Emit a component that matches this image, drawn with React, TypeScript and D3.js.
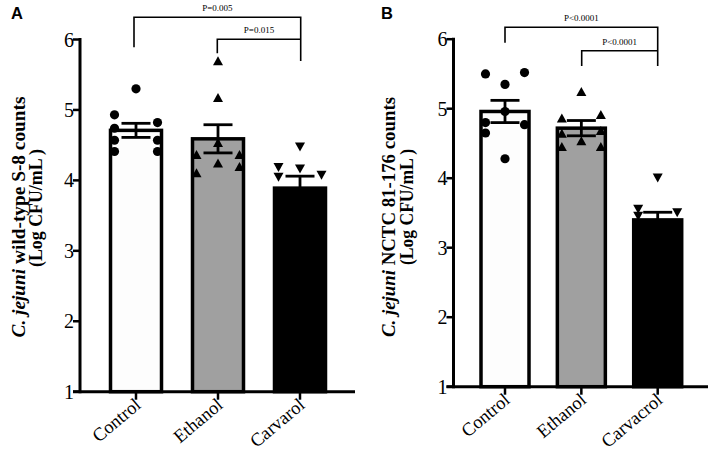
import React from "react";
import * as d3 from "d3";

const categoriesA = ["Control", "Ethanol", "Carvarol"];
const categoriesB = ["Control", "Ethanol", "Carvacrol"];
const meansA = [4.71, 4.59, 3.89];
const semA = [0.1, 0.2, 0.17];
const meansB = [4.96, 4.72, 3.4];
const semB = [0.16, 0.11, 0.11];
const pointsA = [
  [5.3, 4.93, 4.82, 4.74, 4.57, 4.57, 4.41, 4.41],
  [5.69, 5.17, 4.53, 4.24, 4.36, 4.36, 4.1, 4.19],
  [4.48, 4.19, 4.17, 4.05, 4.08, 3.5, 3.35, 3.3],
];
const pointsB = [
  [5.5, 5.52, 5.35, 4.96, 4.8, 4.77, 4.65, 4.28],
  [5.24, 4.86, 4.91, 4.53, 4.45, 4.45, 4.68, 4.64],
  [4.01, 3.56, 3.51, 3.46, 3.3, 3.2, 3.1, 3.06],
];
// horizontal jitter slots for points (-1 left, 0 centre, 1 right)
const jitterA = [
  [0, -1, 1, -1, -1, 1, -1, 1],
  [0, 0, 0, 0, -1, 1, -1, 1],
  [0, -1, 0, -1, 1, 0, -1, 1],
];
const jitterB = [
  [-1, 1, 0, 0, -1, 1, -1, 0],
  [0, -1, 1, 0, -1, 1, 1, -1],
  [0, -1, 1, -1, 0, 1, -1, 0],
];
const yTicks = [1, 2, 3, 4, 5, 6];
const pLabelsA = ["P=0.005", "P=0.015"];
const pLabelsB = ["P<0.0001", "P<0.0001"];
const titleA = ["wild-type S-8 counts", "(Log CFU/mL )"];
const titleB = ["NCTC 81-176 counts", "(Log CFU/mL )"];

const fills = ["#fdfdfd", "#a0a0a0", "#000000"];
const SERIF = "'Liberation Serif', 'Times New Roman', serif";

type PanelProps = {
  letter: string;
  letterX: number;
  cats: string[];
  means: number[];
  sem: number[];
  points: number[][];
  jitter: number[][];
  pLabels: string[];
  title: string[];
  axisX: number;
  xEnd: number;
  yTop: number;
  yBottom: number;
  xFirst: number;
  xLast: number;
  barW: number;
  jit: number;
  t1: { x: number; y: number; len: number };
  t2: { x: number; y: number; len: number };
  br: { outerY: number; outerL: number; outerR: number; innerY: number; innerL: number; innerR: number; pOut: number; pIn: number; pInL: number };
};

function marker(kind: number, x: number, y: number, key: string) {
  const s = 5;
  if (kind === 0) return <circle key={key} cx={x} cy={y} r={4.6} fill="#000" />;
  if (kind === 1)
    return (
      <path key={key} d={`M${x},${y - s}L${x + s},${y + s * 0.8}L${x - s},${y + s * 0.8}Z`} fill="#000" />
    );
  return <path key={key} d={`M${x},${y + s}L${x + s},${y - s * 0.8}L${x - s},${y - s * 0.8}Z`} fill="#000" />;
}

function Panel(p: PanelProps) {
  const y = d3.scaleLinear().domain([1, 6]).range([p.yBottom, p.yTop]);
  const x = d3.scalePoint<string>().domain(p.cats).range([p.xFirst, p.xLast]);
  const cap = 14.5;
  return (
    <g>
      <text x={p.letterX} y={18.5} fontFamily="'Liberation Sans', Arial, sans-serif" fontWeight="bold" fontSize={16.5}>
        {p.letter}
      </text>
      {/* axis titles */}
      <text
        transform={`translate(${p.t1.x},${p.t1.y}) rotate(-90)`}
        textAnchor="middle"
        fontFamily={SERIF}
        fontWeight="bold"
        fontSize={18}
        textLength={p.t1.len}
        lengthAdjust="spacingAndGlyphs"
      >
        <tspan fontStyle="italic">C. jejuni</tspan>
        <tspan> {p.title[0]}</tspan>
      </text>
      <text
        transform={`translate(${p.t2.x},${p.t2.y}) rotate(-90)`}
        textAnchor="middle"
        fontFamily={SERIF}
        fontWeight="bold"
        fontSize={18}
        textLength={p.t2.len}
        lengthAdjust="spacingAndGlyphs"
      >
        {p.title[1]}
      </text>
      {/* bars */}
      {p.cats.map((c, i) => (
        <rect
          key={"b" + c}
          x={(x(c) as number) - p.barW / 2}
          y={y(p.means[i])}
          width={p.barW}
          height={y(1) - y(p.means[i])}
          fill={fills[i]}
          stroke="#000"
          strokeWidth={3.5}
        />
      ))}
      {/* points */}
      {p.cats.map((c, i) =>
        p.points[i].map((v, j) => marker(i, (x(c) as number) + p.jitter[i][j] * p.jit, y(v), `p${i}-${j}`))
      )}
      {/* error bars */}
      {p.cats.map((c, i) => {
        const cx = x(c) as number;
        const t = y(p.means[i] + p.sem[i]);
        const b = y(p.means[i] - p.sem[i]);
        return (
          <g key={"e" + c} stroke="#000" strokeWidth={2.8}>
            <line x1={cx} x2={cx} y1={t} y2={b} />
            <line x1={cx - cap} x2={cx + cap} y1={t} y2={t} />
            <line x1={cx - cap} x2={cx + cap} y1={b} y2={b} />
          </g>
        );
      })}
      {/* axes */}
      <line x1={p.axisX} x2={p.axisX} y1={y(6) - 1.5} y2={y(1) + 1.5} stroke="#000" strokeWidth={3} />
      <line x1={p.axisX - 7} x2={p.xEnd} y1={y(1)} y2={y(1)} stroke="#000" strokeWidth={3} />
      {yTicks.map((t) => (
        <g key={"t" + t}>
          <line x1={p.axisX - 7} x2={p.axisX} y1={y(t)} y2={y(t)} stroke="#000" strokeWidth={2.5} />
          <text x={p.axisX - 6} y={y(t) + 7} textAnchor="end" fontFamily={SERIF} fontSize={20}>
            {t}
          </text>
        </g>
      ))}
      {p.cats.map((c) => (
        <g key={"x" + c}>
          <line x1={x(c) as number} x2={x(c) as number} y1={y(1)} y2={y(1) + 8} stroke="#000" strokeWidth={2.5} />
          <text
            transform={`translate(${(x(c) as number) + 6},${y(1) + 15}) rotate(-40)`}
            textAnchor="end"
            fontFamily={SERIF}
            fontSize={18.5}
          >
            {c}
          </text>
        </g>
      ))}
      {/* significance brackets */}
      <g stroke="#000" strokeWidth={1.6} fill="none">
        <path d={`M${p.br.outerL},${p.br.pOut}V${p.br.outerY}H${p.br.outerR}V${p.br.pIn}`} />
        <path d={`M${p.br.innerL},${p.br.pInL}V${p.br.innerY}H${p.br.innerR}`} />
      </g>
      <text x={(p.br.outerL + p.br.outerR) / 2} y={p.br.outerY - 6} textAnchor="middle" fontFamily={SERIF} fontSize={9}>
        {p.pLabels[0]}
      </text>
      <text x={(p.br.innerL + p.br.innerR) / 2} y={p.br.innerY - 6} textAnchor="middle" fontFamily={SERIF} fontSize={9}>
        {p.pLabels[1]}
      </text>
    </g>
  );
}

export default function App() {
  return (
    <svg width={711} height={456} style={{ position: "absolute", left: 0, top: 0, background: "#fff" }}>
      <rect width={711} height={456} fill="#fff" />
      <Panel
        letter="A"
        letterX={11}
        cats={categoriesA}
        means={meansA}
        sem={semA}
        points={pointsA}
        jitter={jitterA}
        pLabels={pLabelsA}
        title={titleA}
        axisX={80}
        xEnd={355}
        yTop={39.5}
        yBottom={391.7}
        xFirst={136}
        xLast={300}
        barW={51}
        jit={21.5}
        t1={{ x: 25, y: 217, len: 241 }}
        t2={{ x: 42, y: 208, len: 118 }}
        br={{ outerY: 17.3, outerL: 134, outerR: 300.7, innerY: 39.3, innerL: 217.3, innerR: 300.7, pOut: 47.3, pIn: 61, pInL: 53.3 }}
      />
      <Panel
        letter="B"
        letterX={381}
        cats={categoriesB}
        means={meansB}
        sem={semB}
        points={pointsB}
        jitter={jitterB}
        pLabels={pLabelsB}
        title={titleB}
        axisX={453.5}
        xEnd={708}
        yTop={39.2}
        yBottom={386.7}
        xFirst={505}
        xLast={657.7}
        barW={48}
        jit={19.5}
        t1={{ x: 395, y: 217, len: 240 }}
        t2={{ x: 413, y: 207, len: 116 }}
        br={{ outerY: 27.3, outerL: 505, outerR: 657.7, innerY: 50.7, innerL: 581.7, innerR: 657.7, pOut: 42.7, pIn: 66, pInL: 66 }}
      />
    </svg>
  );
}
